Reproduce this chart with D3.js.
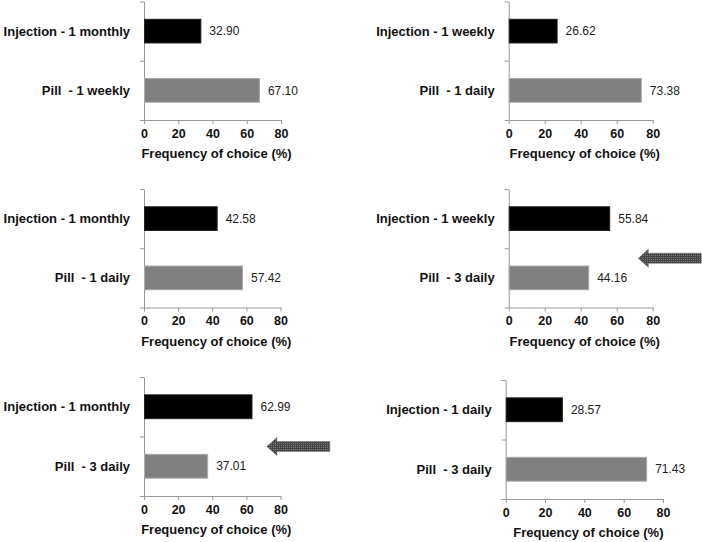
<!DOCTYPE html>
<html>
<head>
<meta charset="utf-8">
<script src="https://cdn.jsdelivr.net/npm/d3@7"></script>
<style>
  html, body { margin: 0; padding: 0; background: #fff; }
  svg { display: block; font-family: "Liberation Sans", Arial, sans-serif; }
</style>
</head>
<body>
<svg width="702" height="542"></svg>
<script>
// data, one entry per small panel (reading order)
var categories = [
    ["Injection - 1 monthly", "Pill  - 1 weekly"],
    ["Injection - 1 weekly", "Pill  - 1 daily"],
    ["Injection - 1 monthly", "Pill  - 1 daily"],
    ["Injection - 1 weekly", "Pill  - 3 daily"],
    ["Injection - 1 monthly", "Pill  - 3 daily"],
    ["Injection - 1 daily", "Pill  - 3 daily"]
];
var values = [
    [32.90, 67.10],
    [26.62, 73.38],
    [42.58, 57.42],
    [55.84, 44.16],
    [62.99, 37.01],
    [28.57, 71.43]
];
var xTicks = [0, 20, 40, 60, 80];
var xTitle = "Frequency of choice (%)";
// panels that carry the arrow annotation
var arrowPanels = [3, 4];

// layout of each panel: x of 0 and 80, top and bottom of the y axis
var frames = [
    {x0: 144, x1: 281, top: 1.5, bottom: 120},
    {x0: 508.7, x1: 652.7, top: 1.5, bottom: 120},
    {x0: 144, x1: 280.5, top: 189, bottom: 307.5},
    {x0: 508.7, x1: 652.7, top: 189, bottom: 307.5},
    {x0: 144, x1: 280.5, top: 377, bottom: 496},
    {x0: 505.7, x1: 663, top: 380, bottom: 499}
];

var barFill = ["#000000", "#808080"];
var barStroke = ["#222222", "#a8a8a8"];

var svg = d3.select("svg");

// dithered fill for the arrows
var pat = svg.append("defs").append("pattern")
    .attr("id", "dots")
    .attr("width", 2)
    .attr("height", 2)
    .attr("patternUnits", "userSpaceOnUse");
pat.append("rect").attr("width", 2).attr("height", 2).attr("fill", "#454545");
pat.append("rect").attr("x", 1).attr("y", 1).attr("width", 1).attr("height", 1).attr("fill", "#7d7d7d");

frames.forEach(function (f, p) {
    var cats = categories[p];
    var vals = values[p];
    var g = svg.append("g");

    var x = d3.scaleLinear().domain([0, 80]).range([f.x0, f.x1]);
    var y = d3.scaleBand().domain(cats).range([f.top, f.bottom])
        .paddingInner(0.6).paddingOuter(0.3);
    var yEdge = d3.scaleLinear().domain([0, cats.length]).range([f.top, f.bottom]);

    // y axis with ticks between categories
    var ya = g.append("g")
        .attr("transform", "translate(" + f.x0 + ",0)")
        .call(d3.axisLeft(yEdge).tickValues(d3.range(cats.length + 1))
            .tickFormat("").tickSize(4).tickSizeOuter(0));
    ya.select(".domain").attr("stroke", "#999");
    ya.selectAll(".tick line").attr("stroke", "#999");

    // x axis
    var xa = g.append("g")
        .attr("transform", "translate(0," + f.bottom + ")")
        .call(d3.axisBottom(x).tickValues(xTicks).tickSize(4).tickSizeOuter(0).tickPadding(5));
    xa.select(".domain").attr("stroke", "#999");
    xa.selectAll(".tick line").attr("stroke", "#999");
    xa.selectAll(".tick text")
        .attr("fill", "#111")
        .style("font-size", "12.5px")
        .style("font-weight", "bold")
        .style("font-family", "'Liberation Sans', Arial, sans-serif");

    g.append("text")
        .attr("x", (f.x0 + f.x1) / 2 + 4)
        .attr("y", f.bottom + 38)
        .attr("text-anchor", "middle")
        .attr("fill", "#111")
        .style("font-size", "13px")
        .style("font-weight", "bold")
        .text(xTitle);

    // bars
    g.selectAll("rect.bar")
        .data(vals)
        .enter().append("rect")
        .attr("class", "bar")
        .attr("x", x(0) + 0.5)
        .attr("y", function (d, i) { return y(cats[i]); })
        .attr("width", function (d) { return x(d) - x(0); })
        .attr("height", y.bandwidth())
        .attr("fill", function (d, i) { return barFill[i]; })
        .attr("stroke", function (d, i) { return barStroke[i]; })
        .attr("stroke-width", 1);

    // value labels
    g.selectAll("text.val")
        .data(vals)
        .enter().append("text")
        .attr("class", "val")
        .attr("x", function (d) { return x(d) + 9; })
        .attr("y", function (d, i) { return y(cats[i]) + y.bandwidth() / 2; })
        .attr("dy", "0.35em")
        .attr("fill", "#222")
        .style("font-size", "12px")
        .text(d3.format(".2f"));

    // category labels
    g.selectAll("text.cat")
        .data(cats)
        .enter().append("text")
        .attr("class", "cat")
        .attr("x", f.x0 - 14)
        .attr("y", function (d) { return y(d) + y.bandwidth() / 2; })
        .attr("dy", "0.35em")
        .attr("text-anchor", "end")
        .attr("fill", "#111")
        .style("font-size", "13px")
        .style("font-weight", "bold")
        .style("white-space", "pre")
        .text(function (d) { return d; });

    // arrow pointing at the panel
    if (arrowPanels.indexOf(p) >= 0) {
        var tip = x(72), len = 63, cy = yEdge(1) + 10;
        var pts = [
            [tip, cy],
            [tip + 10, cy - 9],
            [tip + 10, cy - 5],
            [tip + len, cy - 5],
            [tip + len, cy + 5],
            [tip + 10, cy + 5],
            [tip + 10, cy + 9]
        ];
        g.append("path")
            .attr("d", d3.line()(pts) + "Z")
            .attr("fill", "url(#dots)")
            .attr("stroke", "#666")
            .attr("stroke-width", 0.5);
    }
});
</script>
</body>
</html>
